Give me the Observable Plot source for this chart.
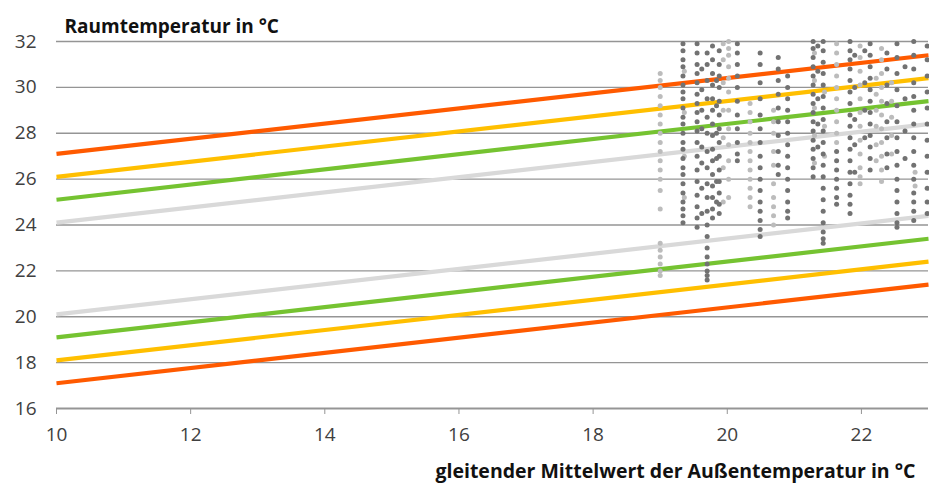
<!DOCTYPE html>
<html>
<head>
<meta charset="utf-8">
<script src="https://cdn.jsdelivr.net/npm/d3@7"></script>
<script src="https://cdn.jsdelivr.net/npm/@observablehq/plot@0.6"></script>
<style>
  html, body { margin: 0; padding: 0; background: #fff; }
  #chart svg { display: block; }
</style>
</head>
<body>
<div id="chart"></div>
<script>
// ---- tick labels / axes ----
const xTicks = [10, 12, 14, 16, 18, 20, 22];
const yTicks = [16, 18, 20, 22, 24, 26, 28, 30, 32];
const gridY = [18, 20, 22, 24, 26, 28, 30, 32];

// ---- comfort band lines (endpoints read at x = 10 and x = 23) ----
const lineX = [10, 23];
const orangeUpper = [27.1, 31.4];
const yellowUpper = [26.1, 30.4];
const greenUpper  = [25.1, 29.4];
const greyUpper   = [24.1, 28.4];
const greyLower   = [20.1, 24.4];
const greenLower  = [19.1, 23.4];
const yellowLower = [18.1, 22.4];
const orangeLower = [17.1, 21.4];

// ---- measured room temperatures, grouped by running-mean column ----
const darkX = [19.34, 19.55, 19.62, 19.70, 19.78, 19.84, 19.88, 20.15, 20.49, 20.76, 20.90,
               21.28, 21.35, 21.43, 21.63, 21.83, 21.90, 22.05, 22.13, 22.38, 22.53, 22.65, 22.78, 22.98];
const darkY = [
  [31.9,31.6,31.2,30.9,30.5,30.1,29.8,29.5,29.1,28.7,28.4,28.0,27.6,27.3,26.9,26.5,26.2,25.8,25.4,25.0,24.7,24.4,24.1],
  [31.9,31.5,31.0,30.6,30.2,29.7,29.3,28.9,28.5,28.1,27.6,27.0,26.4,25.9,25.3,24.8,24.3,23.9],
  [30.8,29.9,29.0,28.2,27.4,26.7,25.6,24.5],
  [31.5,31.0,30.3,29.5,28.7,28.0,27.2,26.5,25.8,25.2,24.6,24.0,23.5,23.0,22.6,22.3,22.0,21.8,21.6],
  [31.8,31.2,30.6,30.1,29.5,29.0,28.4,27.9,27.3,26.8,26.2,25.7,25.2,24.7,24.3],
  [30.3,29.2,28.0,26.9,25.9,25.0],
  [31.6,31.0,30.5,30.0,29.4,28.8,28.2,27.6,27.0,26.4,25.9,25.4,24.9,24.5],
  [31.9,31.5,31.0,30.5,30.0,29.4,28.8,28.2,27.6,27.1,26.8],
  [31.5,31.0,30.2,29.5,28.8,28.2,27.6,27.0,26.5,26.0,25.5,25.0,24.6,24.2,23.8,23.5],
  [31.3,30.8,30.3,29.7,29.1,28.5,27.9,27.2,26.6,26.2],
  [30.5,30.0,29.5,29.0,28.5,28.0,27.5,27.0,26.5,26.0,25.5,25.0,24.6,24.3],
  [32.0,31.7,31.3,30.9,30.5,30.1,29.7,29.3,28.9,28.5,28.1,27.7,27.3,26.9,26.5,26.1],
  [31.8,30.7,29.5,28.4,27.4],
  [32.0,31.6,31.1,30.6,30.1,29.6,29.1,28.6,28.1,27.6,27.1,26.6,26.1,25.6,25.1,24.6,24.1,23.7,23.4,23.2],
  [27.2,26.8,26.4,26.0,25.6,25.2,24.9],
  [32.0,31.6,31.2,30.8,30.3,29.8,29.3,28.8,28.3,27.8,27.3,26.8,26.3,25.8,25.3,24.9,24.5],
  [31.4,30.0,28.6,27.5,26.3],
  [31.6,30.2,29.0,27.8],
  [31.9,31.4,30.9,30.4,29.9,29.4,28.9,28.4,27.9,27.4,26.9,26.4],
  [31.5,30.8,30.1,29.3,28.5,27.8,27.1,26.5],
  [31.9,31.3,30.6,29.9,29.2,28.5,27.8,27.2,26.6,26.0,25.5,25.0,24.5,24.1,23.9],
  [30.9,29.5,28.1,26.9],
  [32.0,31.4,30.8,30.2,29.6,29.0,28.4,27.8,27.2,26.6,26.0,25.4,25.0,24.6,24.2],
  [31.8,31.2,30.5,29.8,29.1,28.4,27.7,27.0,26.3,25.6,25.0,24.5]
];
const lightX = [19.00, 19.36, 19.94, 20.02, 20.34, 20.69, 21.30, 21.45, 21.63, 21.98, 22.22, 22.30, 22.45, 22.80];
const lightY = [
  [30.6,30.3,30.0,29.6,29.2,28.8,28.4,28.0,27.6,27.2,26.8,26.4,26.0,25.5,24.7,23.2,22.9,22.6,22.3,22.0,21.8],
  [30.7,28.9,27.0,25.2],
  [31.9,31.2,30.2,29.0,27.8,26.5,25.0],
  [32.0,31.7,31.4,30.9,30.4,29.8,29.0,28.2,27.5,26.8,26.0,25.2],
  [29.3,28.9,28.5,28.0,27.6,27.2,26.8,26.4,26.0,25.6,25.2,24.8],
  [29.0,28.5,28.0,27.2,26.6,25.8,25.2,24.8,24.4,24.0],
  [31.5,30.3,29.1,27.9,26.7],
  [29.8,28.3,27.0],
  [31.9,31.5,31.0,30.5,30.0,29.5,29.0,28.5,28.0,27.6],
  [31.8,31.3,30.7,30.1,29.5,28.9,28.3,27.7,27.1,26.5,26.1,25.8],
  [30.4,29.7,29.0,28.3,27.5,26.8],
  [31.7,31.2,30.6,30.0,29.4,28.8,28.2,27.6,27.0,26.4,25.9],
  [30.2,29.4,28.7,27.9,27.1],
  [26.3,25.7]
];

// ---- build tables for the library ----
const toPts = (xs, ys) => xs.flatMap((x, i) => ys[i].map(y => ({x, y})));
const darkPts = toPts(darkX, darkY);
const lightPts = toPts(lightX, lightY);
const lineSeries = [
  {vals: orangeUpper, color: "#ff5a00"},
  {vals: yellowUpper, color: "#ffbf00"},
  {vals: greenUpper,  color: "#75c331"},
  {vals: greyUpper,   color: "#d9d9d9"},
  {vals: greyLower,   color: "#d9d9d9"},
  {vals: greenLower,  color: "#75c331"},
  {vals: yellowLower, color: "#ffbf00"},
  {vals: orangeLower, color: "#ff5a00"}
];

const font = "'Open Sans', sans-serif";

const chart = Plot.plot({
  width: 929,
  height: 489,
  marginLeft: 56,
  marginRight: 1,
  marginTop: 41,
  marginBottom: 81,
  style: {fontFamily: font, background: "#fff", overflow: "visible"},
  x: {domain: [10, 23]},
  y: {domain: [16, 32]},
  marks: [
    Plot.ruleY(gridY, {stroke: "#959595", strokeWidth: 1.4}),
    Plot.ruleY([16], {stroke: "#959595", strokeWidth: 2}),
    Plot.axisX({ticks: xTicks, tickSize: 6, tickPadding: 13, stroke: "#959595",
                fill: "#404040", fontSize: 19, label: null, tickFormat: d => String(d)}),
    Plot.axisY({ticks: yTicks, tickSize: 0, tickPadding: 20,
                fill: "#404040", fontSize: 19, label: null, tickFormat: d => String(d)}),
    ...lineSeries.map(s => Plot.line(lineX.map((x, i) => ({x, y: s.vals[i]})),
      {x: "x", y: "y", stroke: s.color, strokeWidth: 4.2, strokeLinecap: "butt"})),
    Plot.dot(lightPts, {x: "x", y: "y", r: 2.5, fill: "#bcbcbc", stroke: "none"}),
    Plot.dot(darkPts, {x: "x", y: "y", r: 2.5, fill: "#727272", stroke: "none"}),
    Plot.text(["Raumtemperatur in °C"], {frameAnchor: "top-left", textAnchor: "start",
      lineAnchor: "bottom", dx: 8, dy: -9, fontSize: 19, fontWeight: "bold", fill: "#111", text: d => d}),
    Plot.text(["gleitender Mittelwert der Außentemperatur in °C"], {frameAnchor: "bottom-right",
      textAnchor: "end", lineAnchor: "bottom", dx: -13, dy: 69, fontSize: 19.5, fontWeight: "bold",
      fill: "#111", text: d => d})
  ]
});
document.getElementById("chart").appendChild(chart);
</script>
</body>
</html>
